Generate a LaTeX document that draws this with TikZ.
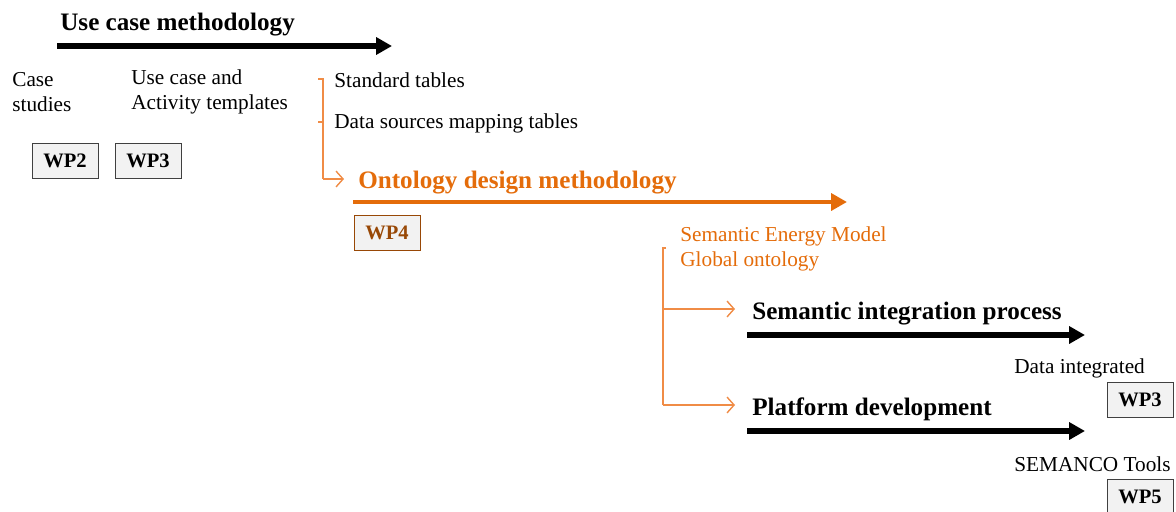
\documentclass[tikz,border=0pt]{standalone}
\usepackage{fontspec}
\setmainfont{Liberation Serif}
\usetikzlibrary{arrows.meta}

\definecolor{darkorange}{RGB}{228,108,10}
\definecolor{lightorange}{RGB}{240,140,70}
\definecolor{wpbrown}{RGB}{152,72,6}
\definecolor{boxgray}{RGB}{242,242,242}

\begin{document}
\begin{tikzpicture}[x=0.02cm,y=-0.02cm,
		every node/.style={inner sep=0pt,anchor=west,align=left,font=\fontsize{12.1}{14.2}\selectfont},
		title/.style={font=\fontsize{14.3}{17}\selectfont\bfseries},
		wpbox/.style={draw=black!75,fill=boxgray,anchor=center,align=center,minimum width=37.5pt,minimum height=20pt,font=\fontsize{11.7}{14}\selectfont\bfseries},
		bigarrow/.style={line width=2.9pt,-{Triangle[length=9pt,width=9.5pt]}},
		thinarrow/.style={lightorange,line width=0.8pt,-{Straight Barb[length=4pt,width=9pt]}},
		thinline/.style={lightorange,line width=0.8pt}]
		\useasboundingbox (0,0) rectangle (1176,511);

		% use case methodology
		\node[title] (usecase) at (60,25) {Use case methodology};
		\coordinate (uca) at (57,46);
		\coordinate (ucb) at (392,46);
		\draw[bigarrow] (uca) -- (ucb);

		\node (studies) at (12,92) {Case\\studies};
		\node (templates) at (131,92) {Use case and\\Activity templates};
		\node[wpbox] (wp2) at (65,161) {WP2};
		\node[wpbox] (wp3a) at (148,161) {WP3};

		% tables feeding the ontology design
		\node (standard) at (334,80) {Standard tables};
		\node (mapping) at (334,123) {Data sources mapping tables};
		\coordinate (ta) at (318,79);
		\coordinate (tb) at (323,79);
		\coordinate (tc) at (318,122);
		\coordinate (td) at (323,122);
		\coordinate (te) at (323,179);
		\coordinate (tf) at (344,179);
		\draw[thinline] (ta) -- (tb) -- (te);
		\draw[thinline] (tc) -- (td);
		\draw[thinarrow] (te) -- (tf);

		% ontology design methodology
		\node[title,text=darkorange] (ontology) at (358,183) {Ontology design methodology};
		\coordinate (oa) at (353,202);
		\coordinate (ob) at (847,202);
		\draw[bigarrow,darkorange,line width=2.4pt] (oa) -- (ob);
		\node[wpbox,draw=wpbrown,text=wpbrown] (wp4) at (387,233) {WP4};

		\node[text=darkorange] (model) at (680,249) {Semantic Energy Model\\Global ontology};
		\coordinate (ma) at (666,248);
		\coordinate (mb) at (663,248);
		\coordinate (mc) at (663,309);
		\coordinate (md) at (663,405);
		\coordinate (me) at (735,309);
		\coordinate (mf) at (735,405);
		\draw[thinline] (ma) -- (mb) -- (md);
		\draw[thinarrow] (mc) -- (me);
		\draw[thinarrow] (md) -- (mf);

		% semantic integration process
		\node[title] (integration) at (752,314) {Semantic integration process};
		\coordinate (ia) at (747,335);
		\coordinate (ib) at (1085,335);
		\draw[bigarrow] (ia) -- (ib);
		\node (integrated) at (1014,368) {Data integrated};
		\node[wpbox] (wp3b) at (1140,400) {WP3};

		% platform development
		\node[title] (platform) at (752,409) {Platform development};
		\coordinate (pa) at (747,431);
		\coordinate (pb) at (1085,431);
		\draw[bigarrow] (pa) -- (pb);
		\node (tools) at (1014,464) {SEMANCO Tools};
		\node[wpbox] (wp5) at (1140,497) {WP5};
	\end{tikzpicture}
\end{document}
